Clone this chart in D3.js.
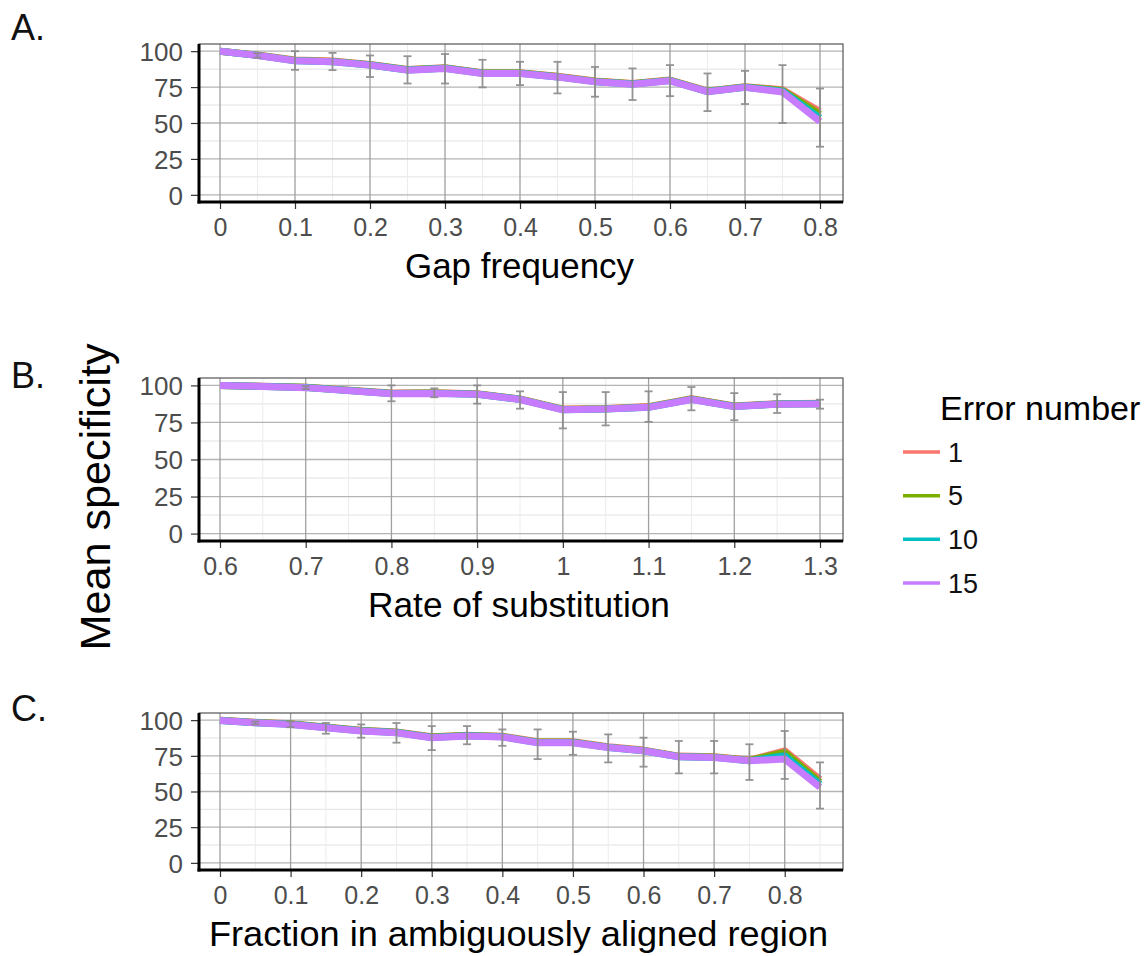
<!DOCTYPE html>
<html><head><meta charset="utf-8">
<script src="https://cdn.jsdelivr.net/npm/d3@7"></script>
<style>body{margin:0;background:#fff}svg{display:block}text{font-family:"Liberation Sans",Arial,sans-serif}</style>
</head><body>
<svg id="c" width="1144" height="956"></svg>
<script>
// ---------- data ----------
const seriesNames = ["1", "5", "10", "15"];
const seriesColors = ["#F8766D", "#7CAE00", "#00BFC4", "#C77CFF"];
const yTicks = [0, 25, 50, 75, 100];

// Panel A: Gap frequency
const xA = [0,0.05,0.1,0.15,0.2,0.25,0.3,0.35,0.4,0.45,0.5,0.55,0.6,0.65,0.7,0.75,0.8];
const A_1  = [100,97.3,93.8,93.1,90.8,87.3,88.5,85,85,82.5,79.2,77.5,79.9,72.3,75.3,73.2,58];
const A_5  = [100,97.2,93.6,92.9,90.6,87.1,88.3,84.8,84.8,82.3,79,77.3,79.7,72.1,75.1,72.7,56];
const A_10 = [100,97.1,93.4,92.7,90.4,86.9,88.1,84.6,84.6,82.1,78.8,77.1,79.5,71.9,74.9,72.2,53.5];
const A_15 = [100,97,93.3,92.6,90.3,86.8,88,84.5,84.5,82,78.7,77,79.4,71.8,74.8,71.6,51];
const A_hi = [100,98.5,100,98.8,97,96.5,98,94,92.6,92.6,89,88,90.3,84.5,86.3,90.3,74];
const A_lo = [100,95.5,87,86.8,82,77.5,77.5,74.8,76.4,70.6,68.3,66,68.7,58.3,63.2,50,33.5];
const xTicksA = [0,0.1,0.2,0.3,0.4,0.5,0.6,0.7,0.8];

// Panel B: Rate of substitution
const xB = [0.6,0.7,0.8,0.85,0.9,0.95,1.0,1.05,1.1,1.15,1.2,1.25,1.3];
const B_1  = [100,98.8,94.8,95,94.4,90.9,84,84.5,85.7,91,86.1,87.7,87.9];
const B_5  = [100,98.7,94.6,94.8,94.2,90.7,83.8,84.3,85.5,90.8,85.9,87.5,87.7];
const B_10 = [100,98.6,94.5,94.7,94.1,90.6,83.6,84.1,85.3,90.6,85.8,87.4,87.6];
const B_15 = [100,98.5,94.4,94.6,94,90.5,83.5,84,85.2,90.5,85.7,87.3,87.5];
const B_hi = [100,99.5,100,98,100,96,95.5,95.5,96,98.9,94.8,94,90.4];
const B_lo = [100,97.5,89.3,92,87.7,84.3,71,73,75.4,83.2,76.5,81.4,84.3];
const xTicksB = [0.6,0.7,0.8,0.9,1.0,1.1,1.2,1.3];

// Panel C: Fraction in ambiguously aligned region
const xC = [0,0.05,0.1,0.15,0.2,0.25,0.3,0.35,0.4,0.45,0.5,0.55,0.6,0.65,0.7,0.75,0.8,0.85];
const C_1  = [100,98.5,97.4,95.2,92.9,91.7,88.3,89.4,88.7,84.8,84.8,81.3,79,74.8,74.3,72,78.5,58.5];
const C_5  = [99.9,98.4,97.3,95,92.7,91.5,88.1,89.2,88.5,84.6,84.6,81.1,78.8,74.6,74.1,71.8,77.3,56.5];
const C_10 = [99.8,98.2,97.1,94.8,92.5,91.3,87.8,89,88.3,84.3,84.3,80.9,78.6,74.4,73.9,71.6,75,55];
const C_15 = [99.8,98.1,97,94.7,92.4,91.2,87.7,88.9,88.2,84.2,84.2,80.8,78.5,74.3,73.8,71.5,72.7,53];
const C_hi = [100,99,99,98,97,98,95.8,95.8,93.5,93.5,91.9,90,87.7,85.4,85.4,83.1,92.4,70.4];
const C_lo = [99.5,97,95,90.5,87.7,84.2,79,83.1,82,72.7,75.7,70.4,67.4,62.7,62.7,58.1,58.8,38];
const xTicksC = [0,0.1,0.2,0.3,0.4,0.5,0.6,0.7,0.8];

// ---------- drawing ----------
const svg = d3.select("#c");
const fmt = d => String(+d.toFixed(2));

function panel(cfg) {
  const L = 199, R = 843;
  const x = d3.scaleLinear().domain(cfg.xDom).range([220, 820]);
  const y = d3.scaleLinear().domain([-5, 105]).range([cfg.bottom, cfg.top]);
  const g = svg.append("g");

  // minor grid
  const yMinor = [12.5, 37.5, 62.5, 87.5];
  g.selectAll(".ymin").data(yMinor).join("line")
    .attr("x1", L).attr("x2", R).attr("y1", d => y(d)).attr("y2", d => y(d))
    .attr("stroke", "#e2e2e2").attr("stroke-width", 1);
  g.selectAll(".xmin").data(cfg.xMinor).join("line")
    .attr("x1", d => x(d)).attr("x2", d => x(d)).attr("y1", cfg.top).attr("y2", cfg.bottom)
    .attr("stroke", "#ececec").attr("stroke-width", 1);
  // major grid
  g.selectAll(".ymaj").data(yTicks).join("line")
    .attr("x1", L).attr("x2", R).attr("y1", d => y(d)).attr("y2", d => y(d))
    .attr("stroke", "#b4b4b4").attr("stroke-width", 1.3);
  g.selectAll(".xmaj").data(cfg.xTicks).join("line")
    .attr("x1", d => x(d)).attr("x2", d => x(d)).attr("y1", cfg.top).attr("y2", cfg.bottom)
    .attr("stroke", "#a0a0a0").attr("stroke-width", 1.3);

  // border
  g.append("rect").attr("x", L).attr("y", cfg.top).attr("width", R - L).attr("height", cfg.bottom - cfg.top)
    .attr("fill", "none").attr("stroke", "#555").attr("stroke-width", 1.2);

  // lines
  const line = d3.line().x(d => x(d[0])).y(d => y(d[1]));
  cfg.series.forEach((s, i) => {
    g.append("path").datum(cfg.xs.map((v, j) => [v, s[j]]))
      .attr("d", line).attr("fill", "none").attr("stroke", seriesColors[i])
      .attr("stroke-width", 7).attr("stroke-linejoin", "round").attr("stroke-linecap", "butt");
  });

  // error bars
  const eb = g.append("g").attr("stroke", "#8a8a8a").attr("stroke-width", 1.8).attr("opacity", 0.9);
  cfg.xs.forEach((v, j) => {
    if (cfg.hi[j] - cfg.lo[j] < 0.6) return;
    const cx = x(v);
    eb.append("line").attr("x1", cx).attr("x2", cx).attr("y1", y(cfg.hi[j])).attr("y2", y(cfg.lo[j]));
    eb.append("line").attr("x1", cx - 4).attr("x2", cx + 4).attr("y1", y(cfg.hi[j])).attr("y2", y(cfg.hi[j]));
    eb.append("line").attr("x1", cx - 4).attr("x2", cx + 4).attr("y1", y(cfg.lo[j])).attr("y2", y(cfg.lo[j]));
  });

  // axes
  const ya = g.append("g").attr("transform", `translate(${L},0)`)
    .call(d3.axisLeft(y).tickValues(yTicks).tickSize(8).tickPadding(8).tickFormat(d3.format("d")));
  ya.select(".domain").remove();
  ya.selectAll("line").attr("stroke", "#333").attr("stroke-width", 1.2);
  ya.selectAll("text").attr("fill", "#4d4d4d").style("font-size", "26px").attr("font-family", "Liberation Sans, Arial, sans-serif").attr("dy", "0.36em");

  const xa = g.append("g").attr("transform", `translate(0,${cfg.bottom})`)
    .call(d3.axisBottom(x).tickValues(cfg.xTicks).tickSize(7).tickPadding(9).tickFormat(fmt));
  xa.select(".domain").remove();
  xa.selectAll("line").attr("stroke", "#333").attr("stroke-width", 1.2);
  xa.selectAll("text").attr("fill", "#4d4d4d").style("font-size", "25px").attr("font-family", "Liberation Sans, Arial, sans-serif");

  // black axis lines
  g.append("line").attr("x1", L).attr("x2", L).attr("y1", cfg.top).attr("y2", cfg.bottom + 1.5)
    .attr("stroke", "#000").attr("stroke-width", 3);
  g.append("line").attr("x1", L - 1.5).attr("x2", R).attr("y1", cfg.bottom).attr("y2", cfg.bottom)
    .attr("stroke", "#000").attr("stroke-width", 3);

  // axis title
  svg.append("text").attr("x", (cfg.tx0 + cfg.tx1) / 2).attr("y", cfg.bottom + 76).attr("text-anchor", "middle")
    .style("font-size", "35px").attr("fill", "#000")
    .attr("textLength", cfg.tx1 - cfg.tx0).attr("lengthAdjust", "spacingAndGlyphs").text(cfg.title);
  // panel letter
  svg.append("text").attr("x", 11).attr("y", cfg.labelY).style("font-size", "36px").attr("fill", "#111").text(cfg.label);
}

panel({xs: xA, series: [A_1, A_5, A_10, A_15], hi: A_hi, lo: A_lo, xDom: [0, 0.8], xTicks: xTicksA,
  xMinor: d3.range(0.05, 0.8, 0.1), top: 44, bottom: 202, title: "Gap frequency", tx0: 405, tx1: 634, label: "A.", labelY: 40});
panel({xs: xB, series: [B_1, B_5, B_10, B_15], hi: B_hi, lo: B_lo, xDom: [0.6, 1.3], xTicks: xTicksB,
  xMinor: d3.range(0.65, 1.3, 0.1), top: 378, bottom: 541, title: "Rate of substitution", tx0: 368, tx1: 670, label: "B.", labelY: 388});
panel({xs: xC, series: [C_1, C_5, C_10, C_15], hi: C_hi, lo: C_lo, xDom: [0, 0.85], xTicks: xTicksC,
  xMinor: d3.range(0.05, 0.86, 0.1), top: 713, bottom: 870, title: "Fraction in ambiguously aligned region", tx0: 209, tx1: 828, label: "C.", labelY: 721});

// y title
svg.append("text").attr("transform", "translate(110,497) rotate(-90)").attr("text-anchor", "middle")
  .style("font-size", "42px").attr("fill", "#000").attr("textLength", 307).attr("lengthAdjust", "spacingAndGlyphs")
  .text("Mean specificity");

// legend
svg.append("text").attr("x", 940).attr("y", 420).style("font-size", "34px").attr("fill", "#000")
  .text("Error number");
const legY = d3.scalePoint().domain(seriesNames).range([452, 583]);
const lg = svg.append("g");
seriesNames.forEach((n, i) => {
  lg.append("line").attr("x1", 903).attr("x2", 940).attr("y1", legY(n)).attr("y2", legY(n))
    .attr("stroke", seriesColors[i]).attr("stroke-width", 3.5);
  lg.append("text").attr("x", 948).attr("y", legY(n)).attr("dy", "0.36em").style("font-size", "27px").attr("fill", "#111").text(n);
});
</script>
</body></html>
